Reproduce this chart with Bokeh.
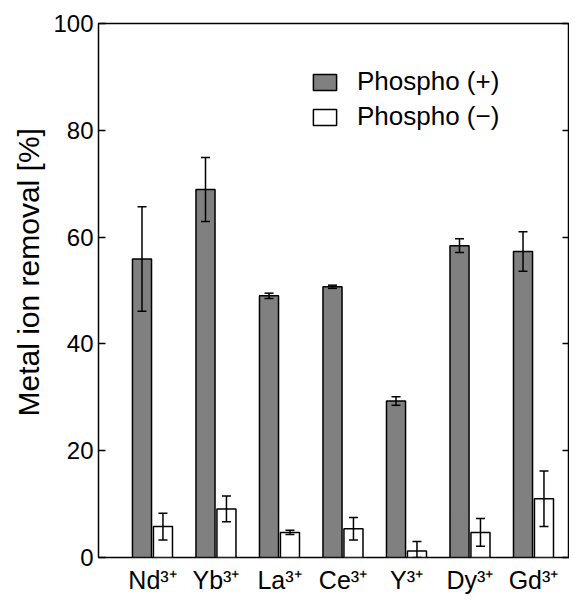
import numpy as np
from bokeh.plotting import figure
from bokeh.models import (ColumnDataSource, Whisker, TeeHead, LinearAxis, Range1d,
                          FixedTicker, Legend, LegendItem, Title)
from bokeh.embed import file_html
from bokeh.resources import INLINE

# ---- data ----
ions = ["Nd", "Yb", "La", "Ce", "Y", "Dy", "Gd"]
charges = ["\u00b3\u207a"] * 7          # superscript "3+"
phospho_plus = [55.9, 68.9, 49.0, 50.7, 29.3, 58.4, 57.3]
phospho_plus_err = [9.8, 6.0, 0.5, 0.3, 0.8, 1.3, 3.7]
phospho_minus = [5.8, 9.1, 4.7, 5.4, 1.2, 4.7, 11.0]
phospho_minus_err = [2.5, 2.4, 0.4, 2.1, 1.8, 2.6, 5.2]
y_ticks = [0, 20, 40, 60, 80, 100]
series_labels = ["Phospho (+)", "Phospho (\u2212)"]
y_label = "Metal ion removal [%]"

FONT = "Liberation Sans"

idx = np.arange(len(ions), dtype=float)
off = 0.165
bw = 0.30

plus = np.array(phospho_plus)
plus_e = np.array(phospho_plus_err)
minus = np.array(phospho_minus)
minus_e = np.array(phospho_minus_err)

src = ColumnDataSource(dict(
    xp=idx - off, xm=idx + off,
    plus=plus, minus=minus,
    plus_up=plus + plus_e, plus_lo=np.clip(plus - plus_e, 0, None),
    minus_up=minus + minus_e, minus_lo=np.clip(minus - minus_e, 0, None),
))

p = figure(width=569, height=596,
           x_range=Range1d(-0.85, 6.567), y_range=Range1d(0, 100),
           output_backend="svg", toolbar_location=None,
           x_axis_location=None,
           min_border_left=98, min_border_right=0,
           min_border_top=23, min_border_bottom=38)
p.background_fill_color = "white"
p.border_fill_color = "white"
p.outline_line_color = "black"
p.outline_line_width = 1.5
p.outline_line_alpha = 1.0
p.grid.grid_line_color = None

yax = p.yaxis[0]
yax.ticker = FixedTicker(ticks=y_ticks)
yax.axis_line_color = None
yax.major_tick_in = 7
yax.major_tick_out = 0
yax.major_tick_line_color = "black"
yax.major_tick_line_width = 1.5
yax.minor_tick_line_color = None
yax.major_label_text_font = FONT
yax.major_label_text_font_size = "24px"
yax.major_label_text_color = "black"
yax.major_label_standoff = 5

rax = LinearAxis(ticker=FixedTicker(ticks=y_ticks), axis_line_color=None,
                 major_tick_in=7, major_tick_out=0, major_tick_line_color="black",
                 major_tick_line_width=1.5, minor_tick_line_color=None,
                 major_label_standoff=0,
                 major_label_overrides={t: "" for t in y_ticks})
p.add_layout(rax, "right")

# category axis (bottom) with superscript charges
xax = LinearAxis(ticker=FixedTicker(ticks=list(idx)), axis_line_color=None,
                 major_tick_line_color=None, minor_tick_line_color=None,
                 major_tick_in=0, major_tick_out=0, major_label_standoff=8,
                 major_label_text_font=FONT, major_label_text_font_size="25px",
                 major_label_text_color="black",
                 major_label_overrides={float(i): ion + chg for i, ion, chg
                                        in zip(idx, ions, charges)})
p.add_layout(xax, "below")

# y axis title, shifted along the axis like the reference
p.add_layout(Title(text=y_label, align="left", vertical_align="bottom", offset=141,
                   text_font=FONT, text_font_size="30px", text_font_style="normal",
                   text_color="black", standoff=12), "left")

r_plus = p.vbar(x="xp", top="plus", bottom=0, width=bw, source=src,
                fill_color="#808080", line_color="black", line_width=1.5)
r_minus = p.vbar(x="xm", top="minus", bottom=0, width=bw, source=src,
                 fill_color="white", line_color="black", line_width=1.5)

for base, up, lo in (("xp", "plus_up", "plus_lo"), ("xm", "minus_up", "minus_lo")):
    w = Whisker(source=src, base=base, upper=up, lower=lo, dimension="height",
                line_color="black", line_width=1.5, level="overlay",
                upper_head=TeeHead(size=9, line_color="black", line_width=1.5),
                lower_head=TeeHead(size=9, line_color="black", line_width=1.5))
    p.add_layout(w)

legend = Legend(items=[LegendItem(label=series_labels[0], renderers=[r_plus]),
                       LegendItem(label=series_labels[1], renderers=[r_minus])],
                location=(212, 425), glyph_width=29, glyph_height=20,
                label_standoff=18, label_text_font=FONT, label_text_font_size="26px",
                label_text_color="black", label_height=20, padding=0, margin=0,
                spacing=4, border_line_color=None, background_fill_alpha=0)
p.add_layout(legend)

open("out.html", "w").write(file_html(p, INLINE))
